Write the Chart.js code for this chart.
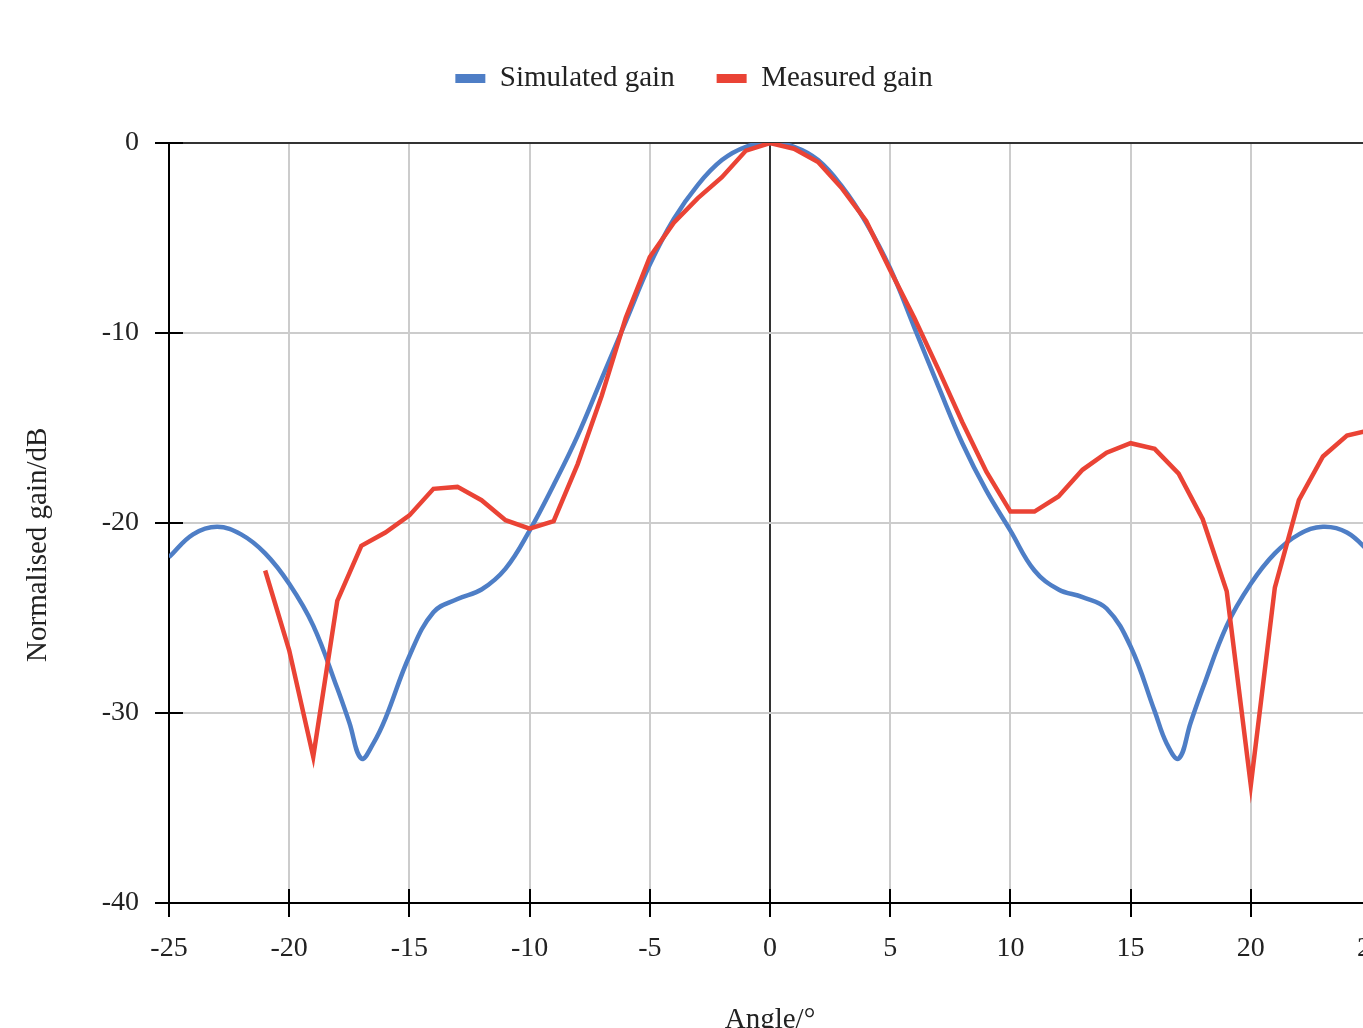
<!DOCTYPE html>
<html>
<head>
<meta charset="utf-8">
<script src="https://cdn.jsdelivr.net/npm/chart.js@4.4.1/dist/chart.umd.min.js"></script>
<style>
  html, body { margin: 0; padding: 0; background: #fff; overflow: hidden; }
  #wrap { position: absolute; left: 0; top: 0; }
</style>
</head>
<body>
<div id="wrap"><canvas id="c" width="1400" height="1050"></canvas></div>
<script>
// ---- data ----
const simAngles = [-25,-24,-23,-22,-21,-20,-19,-18,-17.5,-17,-16.5,-16,-15,-14,-13,-12,-11,-10,-9,-8,-7,-6,-5,-4,-3,-2,-1,0,
                   1,2,3,4,5,6,7,8,9,10,11,12,13,14,15,16,16.5,17,17.5,18,19,20,21,22,23,24,25];
const simGain = [-21.8,-20.6,-20.2,-20.6,-21.6,-23.2,-25.4,-28.7,-30.5,-32.4,-31.6,-30.3,-27.0,-24.7,-24.0,-23.5,-22.4,-20.4,-18.0,-15.4,-12.4,-9.4,-6.4,-4.0,-2.2,-0.9,-0.2,0,
                 -0.2,-0.9,-2.3,-4.2,-6.6,-9.7,-12.8,-15.8,-18.3,-20.4,-22.5,-23.5,-23.9,-24.5,-26.5,-29.9,-31.6,-32.4,-30.5,-28.7,-25.4,-23.2,-21.6,-20.6,-20.2,-20.5,-21.6];
const measAngles = [-21,-20,-19,-18,-17,-16,-15,-14,-13,-12,-11,-10,-9,-8,-7,-6,-5,-4,-3,-2,-1,0,
                    1,2,3,4,5,6,7,8,9,10,11,12,13,14,15,16,17,18,19,20,21,22,23,24,25];
const measGain = [-22.5,-26.7,-32.3,-24.1,-21.2,-20.5,-19.6,-18.2,-18.1,-18.8,-19.85,-20.3,-19.9,-16.9,-13.3,-9.2,-6.0,-4.2,-2.9,-1.8,-0.4,0,
                  -0.3,-1.0,-2.4,-4.1,-6.7,-9.2,-11.9,-14.7,-17.3,-19.4,-19.4,-18.6,-17.2,-16.3,-15.8,-16.1,-17.4,-19.8,-23.6,-33.8,-23.4,-18.8,-16.5,-15.4,-15.1];
const seriesNames = ['Simulated gain', 'Measured gain'];
const xTitle = 'Angle/°';
const yTitle = 'Normalised gain/dB';

const FONT = "'Liberation Serif', 'Times New Roman', serif";
const TXT = '#222';

const innerTicks = {
  id: 'innerTicks',
  beforeDatasetsDraw(chart) {
    const ctx = chart.ctx, a = chart.chartArea;
    const xs = chart.scales.x, ys = chart.scales.y;
    ctx.save();
    ctx.strokeStyle = '#000';
    ctx.lineWidth = 2;
    ctx.beginPath();
    xs.ticks.forEach(t => {
      const px = Math.round(xs.getPixelForValue(t.value));
      ctx.moveTo(px, a.bottom);
      ctx.lineTo(px, a.bottom - 14);
    });
    ys.ticks.forEach(t => {
      const py = Math.round(ys.getPixelForValue(t.value));
      ctx.moveTo(a.left, py);
      ctx.lineTo(a.left + 14, py);
    });
    ctx.stroke();
    ctx.restore();
  }
};

const legendSpace = {
  id: 'legendSpace',
  beforeInit(chart) {
    const lg = chart.legend;
    const origFit = lg.fit;
    lg.fit = function () {
      origFit.call(this);
      this.height = 121;
    };
  }
};

new Chart(document.getElementById('c'), {
  type: 'line',
  data: {
    datasets: [
      {
        label: seriesNames[0],
        data: simAngles.map((a, i) => ({ x: a, y: simGain[i] })),
        borderColor: '#4e7ec6',
        backgroundColor: '#4e7ec6',
        borderWidth: 4.5,
        pointRadius: 0,
        tension: 0.4,
        order: 1
      },
      {
        label: seriesNames[1],
        data: measAngles.map((a, i) => ({ x: a, y: measGain[i] })),
        borderColor: '#ea4335',
        backgroundColor: '#ea4335',
        borderWidth: 4.5,
        pointRadius: 0,
        tension: 0,
        order: 0
      }
    ]
  },
  options: {
    responsive: false,
    animation: false,
    devicePixelRatio: 1,
    layout: { padding: { top: 22, left: 0, right: 12, bottom: 0 } },
    plugins: {
      legend: {
        display: true,
        position: 'top',
        labels: {
          font: { family: FONT, size: 29 },
          color: TXT,
          boxWidth: 30,
          boxHeight: 9,
          padding: 42,
          sort: (a, b) => a.datasetIndex - b.datasetIndex,
          generateLabels: chart => Chart.defaults.plugins.legend.labels.generateLabels(chart)
            .map(l => Object.assign(l, { lineWidth: 0, strokeStyle: 'rgba(0,0,0,0)' }))
        }
      },
      tooltip: { enabled: false }
    },
    scales: {
      x: {
        type: 'linear',
        min: -25, max: 25,
        ticks: { stepSize: 5, font: { family: FONT, size: 28 }, color: TXT, padding: 15, maxRotation: 0 },
        grid: {
          color: ctx => (ctx.tick && ctx.tick.value === 0) ? '#333' : '#cccccc',
          lineWidth: 2,
          tickColor: '#000',
          tickLength: 14,
          drawTicks: true
        },
        border: { color: '#000', width: 2 },
        title: { display: true, text: xTitle, font: { family: FONT, size: 29 }, color: TXT, padding: { top: 0, bottom: 12 } },
        afterFit: s => { s.height = 147; }
      },
      y: {
        type: 'linear',
        min: -40, max: 0,
        ticks: { stepSize: 10, font: { family: FONT, size: 28 }, color: TXT, padding: 16 },
        grid: {
          color: ctx => (ctx.tick && ctx.tick.value === 0) ? '#333' : '#cccccc',
          lineWidth: 2,
          tickColor: '#000',
          tickLength: 14,
          drawTicks: true
        },
        border: { color: '#000', width: 2 },
        title: { display: true, text: yTitle + '      ', font: { family: FONT, size: 29 }, color: TXT, padding: { top: 21, bottom: 0 } },
        afterFit: s => { s.width = 169; }
      }
    }
  },
  plugins: [legendSpace, innerTicks]
});
</script>
</body>
</html>
